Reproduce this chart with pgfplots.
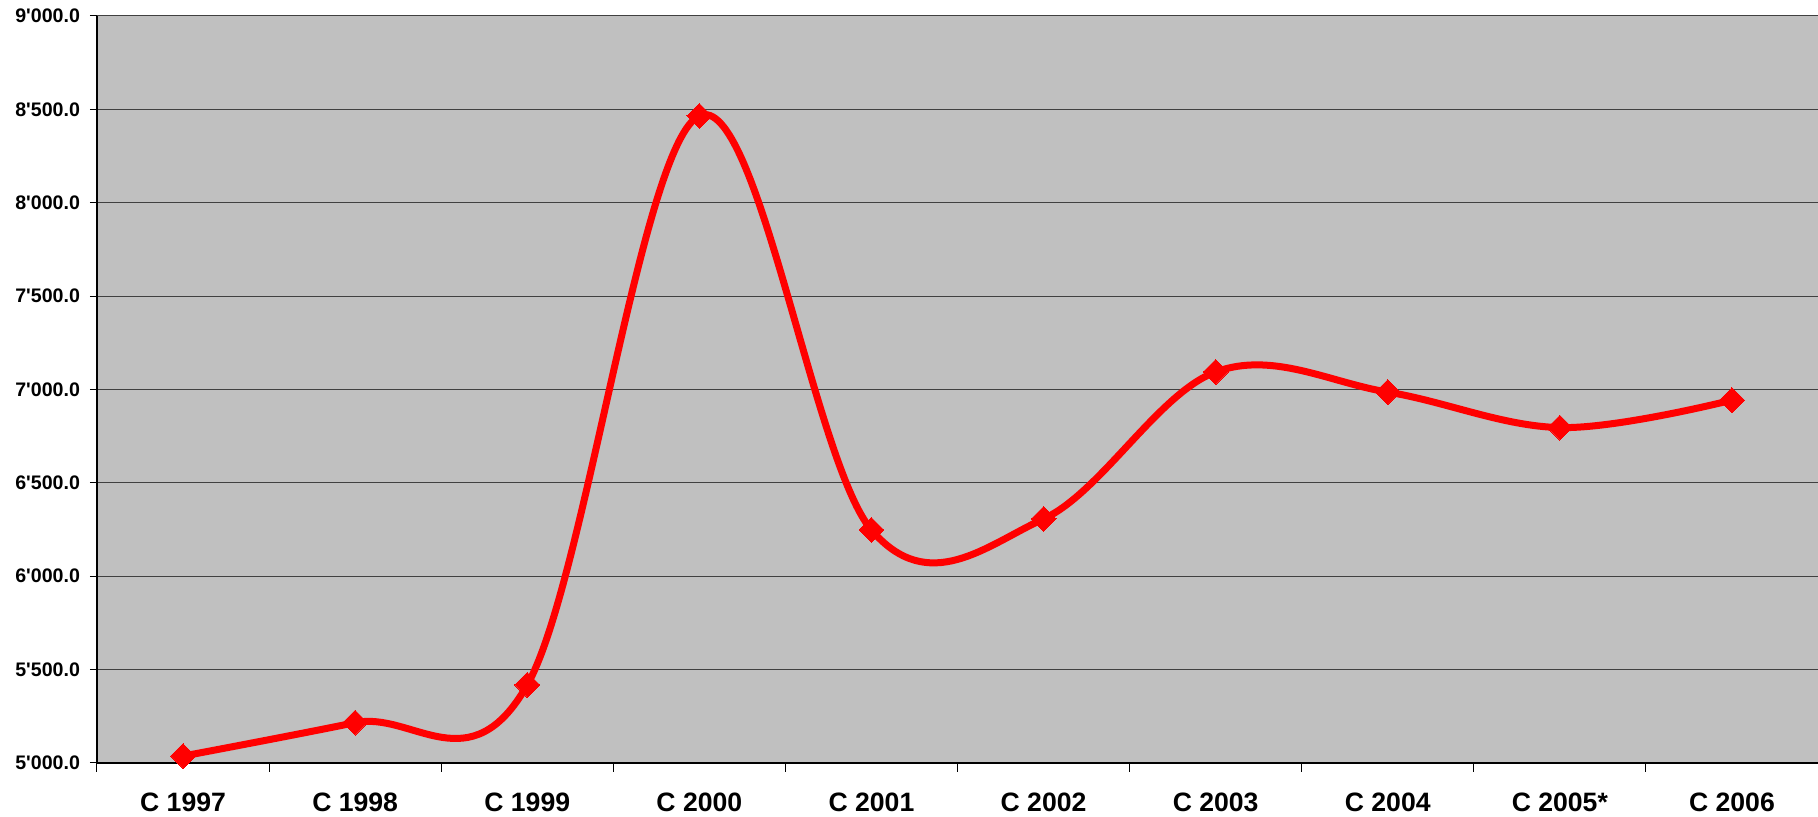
\documentclass[border=0pt]{standalone}
\usepackage{fontspec}
\setmainfont{Liberation Sans}
\usepackage{pgfplots}
\pgfplotsset{compat=1.18}
\usetikzlibrary{calc}
\definecolor{plotgray}{RGB}{192,192,192}
\definecolor{linered}{RGB}{255,0,0}

\begin{document}
\begin{tikzpicture}
  \begin{axis}[
    name=ax,
    scale only axis,
    width=860.5pt, height=373.5pt,
    xmin=-0.5, xmax=9.5,
    ymin=5000, ymax=9000,
    axis background/.style={fill=plotgray},
    axis x line*=bottom, axis y line*=left,
    axis line style={black, line width=0.7pt, -},
    xtick={0,...,9},
    xticklabels={C 1997, C 1998, C 1999, C 2000, C 2001, C 2002, C 2003, C 2004, C 2005*, C 2006},
    minor xtick={-0.5,0.5,...,9.5},
    x tick style={draw=none},
    minor x tick style={draw=black, line width=0.5pt},
    minor tick length=4.5pt,
    ytick={5000,5500,...,9000},
    y tick style={black, line width=0.5pt},
    major tick length=3.5pt,
    tick align=outside,
    ymajorgrids,
    major grid style={black!75, line width=0.5pt},
    xticklabel style={font=\fontsize{13.3}{15}\selectfont\bfseries, yshift=-8pt},
    yticklabel style={font=\fontsize{9.8}{11}\selectfont\bfseries, xshift=-1.5pt},
    /pgf/number format/assume math mode=true,
    yticklabel={\pgfmathprintnumber[fixed, fixed zerofill, precision=1, 1000 sep={\textquotesingle}]{\tick}},
    clip=false,
  ]
    \addplot[linered, line width=3.5pt, smooth, tension=0.6,
      mark=square*, mark size=4.4pt,
      mark options={rotate=45, line width=0pt, fill=linered}]
      coordinates {
        (0, 5037) (1, 5216) (2, 5418) (3, 8465) (4, 6248)
        (5, 6307) (6, 7094) (7, 6986) (8, 6796) (9, 6943)
      };
  \end{axis}
  \pgfresetboundingbox
  \path ($(ax.south west)+(-48.5pt,-27pt)$) rectangle ($(ax.north east)+(0,8pt)$);
\end{tikzpicture}
\end{document}
